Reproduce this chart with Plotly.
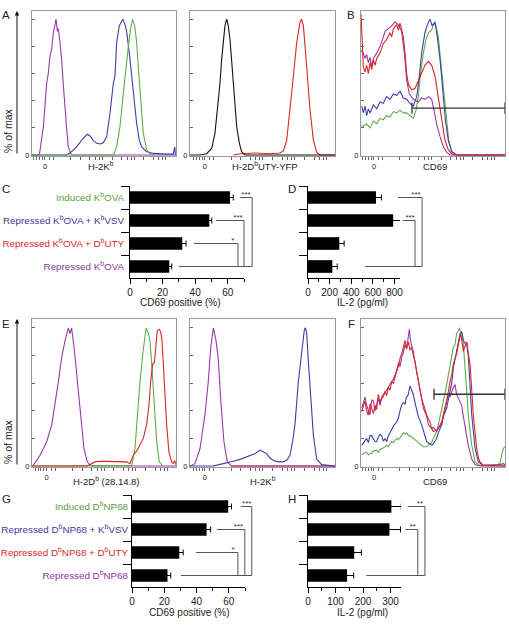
import math
import plotly.graph_objects as go

# ---------------- DATA ----------------
# Panel A (left): H-2Kb histograms (x: channel 0-100, y: % of max)
A1_purple_x = [0, 5.1, 7.9, 10.2, 11.3, 12.5, 13.7, 14.8, 16, 16.7, 17.6, 18.3, 19.4, 20.6, 21.8, 22.9, 24.1, 25.2, 26.9, 28.7, 100]
A1_purple_y = [0, 0, 21, 53, 60, 73, 78, 90, 96, 100, 91, 93, 83, 70, 51, 33, 19, 6, 1, 0, 0]
A1_blue_x = [0, 24.1, 27.5, 31, 34.5, 36.8, 38.4, 40.3, 42.6, 44.9, 47.2, 49.5, 51.9, 54.2, 56.5, 57.6, 58.8, 60.6, 63, 64.6, 65.7, 67.6, 69.2, 70.8, 72.7, 74.5, 76.2, 79.6, 84.3, 93.5, 98.1, 99.1, 99.6]
A1_blue_y = [0, 0, 2.5, 6, 11, 14, 15.3, 14, 10.6, 8.6, 8.1, 9, 13.6, 31, 53, 58, 83, 95, 100, 96, 91, 75, 58, 41, 23, 11, 6, 2.5, 1.2, 0.7, 0.7, 6, 0]
A1_green_x = [0, 56.5, 58.8, 61.1, 63, 64.6, 66.9, 68.5, 69.9, 71.3, 72.7, 73.8, 75, 76.2, 77.3, 79.6, 81.9, 84.3]
A1_green_y = [0, 0, 6, 21, 41, 58, 80, 93, 100, 95, 83, 65, 46, 28, 16, 4, 1, 0]

# Panel A (right): H-2Db UTY-YFP
A2_black_x = [0, 6.9, 11.5, 15, 17.2, 18.4, 19.5, 20.7, 21.8, 23, 24.1, 25.3, 26.4, 27.6, 28.7, 29.9, 31, 32.2, 34, 35.6, 37.9, 100]
A2_black_y = [0, 0, 1, 5, 16, 28, 41, 53, 70, 85, 95, 100, 95, 85, 70, 53, 36, 21, 9, 2.5, 0, 0]
A2_red_x = [30, 35, 45, 55, 62, 64.4, 66.7, 69, 71.3, 73.6, 75.9, 77, 78.2, 80.5, 82.8, 85.1, 87.4, 89.7, 100]
A2_red_y = [0, 1, 1.5, 1, 1.5, 3, 11, 33, 58, 83, 98, 100, 95, 65, 33, 11, 2, 0, 0]

# Panel B: CD69
B_red_x = [0, 0.7, 1.6, 2.8, 3.9, 5.1, 6.3, 7.4, 8.6, 9.7, 10.9, 13.2, 14.4, 15.5, 17.8, 20.1, 21.3, 22.5, 24.8, 25.9, 27.1, 28.2, 29.4, 30.6, 31.7, 32.9, 35.2, 37.5, 39.8, 42.1, 44.4, 46.8, 49.1, 51.4, 53.7, 56, 58.3, 60.6, 63, 65.3, 100]
B_red_y = [104, 85, 65, 61, 66, 60, 68, 63, 70, 66, 71, 75, 79, 82, 85, 90, 87, 93, 96, 92, 97, 93, 87, 75, 60, 52, 48, 49, 55, 61, 66, 69, 66, 58, 43, 26, 11, 4, 1, 0, 0]
B_purple_x = [0, 1.6, 2.8, 3.9, 5.1, 6.3, 7.4, 8.6, 10.9, 13.2, 15.5, 16.7, 19, 21.3, 23.6, 25.9, 28.2, 30.1, 31.7, 33.6, 36.3, 39.8, 42.1, 44.4, 46.8, 49.1, 50.7, 52.5, 54.9, 57.2, 59.5, 61.8, 100]
B_purple_y = [77, 75, 71, 74, 68, 72, 65, 71, 75, 80, 87, 91, 93, 95, 98, 96, 91, 75, 55, 45, 41, 39, 42, 41, 43, 41, 33, 23, 13.5, 6, 2, 0, 0]
B_blue_x = [0.5, 1.6, 2.8, 3.9, 5.1, 6.3, 8.6, 10.9, 13.2, 15.5, 17.8, 20.1, 22.5, 24.8, 27.1, 29.4, 31.7, 34, 36.3, 38.7, 40.5, 42.1, 44.4, 46.1, 47.9, 49.5, 51.4, 53, 54.9, 56.7, 58.6, 60.6, 63, 66.4, 100]
B_blue_y = [36, 31, 36, 29, 34, 31, 37, 34, 39, 38, 43, 41, 45, 44, 47, 42, 41, 38, 36, 43, 58, 75, 90, 96, 100, 95, 98, 87, 70, 48, 26, 11, 2.5, 0, 0]
B_green_x = [0.5, 1.6, 3.9, 6.3, 8.6, 10.9, 13.2, 15.5, 17.8, 20.1, 22.5, 24.8, 27.1, 29.4, 31.7, 34, 36.3, 38.2, 39.8, 41.4, 43.3, 45.1, 46.8, 49.1, 50.7, 52.1, 53.7, 55.3, 57.2, 59, 60.9, 63, 66.4, 100]
B_green_y = [22, 21, 23, 20, 25, 23, 27, 26, 29, 28, 32, 31, 33, 31, 31, 29, 27, 33, 43, 60, 75, 85, 90, 92, 97, 95, 87, 70, 50, 28, 11, 2.5, 0, 0]
B_gate_x = [35.4, 100]
B_gate_y = [34.5, 34.5]

# Panel C: CD69 positive (%)
C_cats = ["Induced K<sup>b</sup>OVA", "Repressed K<sup>b</sup>OVA + K<sup>b</sup>VSV",
          "Repressed K<sup>b</sup>OVA + D<sup>b</sup>UTY", "Repressed K<sup>b</sup>OVA"]
C_vals = [61.4, 48.7, 32.1, 24.1]
C_err = [2.0, 1.5, 2.3, 1.5]
C_br_rows = [0, 1, 2]
C_br_start = [67.5, 52.8, 39.3]
C_br_vert = [75.0, 70.0, 66.3]
C_br_star_x = [71.2, 66.3, 63.2]
C_br_labels = ["***", "***", "*"]
C_base_start = 30.0

# Panel D: IL-2 (pg/ml)
D_vals = [628, 787, 289, 225]
D_err = [50, 68, 45, 45]
D_br_rows = [0, 1]
D_br_start = [832, 878]
D_br_vert = [1054, 989]
D_br_star_x = [998, 943]
D_br_labels = ["***", "***"]
D_base_start = 527

# Panel E (left): H-2Db (28.14.8)
E1_purple_x = [0, 0.9, 5.6, 10.2, 13.7, 16, 18.3, 20.6, 22.9, 25.2, 26.4, 27.5, 29.2, 31.5, 33.8, 36.1, 38.4, 41.4, 100]
E1_purple_y = [0, 0.5, 7.8, 17.6, 29.8, 44, 61, 78.5, 90.7, 100, 96, 100, 86, 61.5, 34.6, 12.7, 2.9, 0, 0]
E1_red_x = [0, 38.4, 43.8, 47.2, 51.9, 58.8, 65.7, 68, 70.4, 73.1, 75, 77.3, 79.6, 81.2, 82.4, 83.8, 85, 86.1, 87, 88.4, 89.4, 90.3, 91.2, 92.4, 93.5, 95.1, 97, 98.1, 99.1, 99.8]
E1_red_y = [0, 0, 3, 3.5, 3.4, 3.2, 3, 1.7, 7.8, 11.5, 15, 20, 30, 44, 61, 74, 75, 91, 98, 99, 97, 91, 74, 49, 30, 10, 3, 2, 4, 1]
E1_green_x = [0, 69.2, 71.5, 73.1, 75, 76.9, 78, 79.2, 80.8, 81.9, 83.1, 84.7, 86.6, 88.4, 90.7]
E1_green_y = [0, 0.5, 12.7, 37, 61, 81, 91, 100, 96, 91, 74, 47, 17.6, 3, 0]

# Panel E (right): H-2Kb
E2_purple_x = [0, 3.4, 6.9, 10.3, 12.6, 14.3, 16.1, 17.9, 19.5, 21.1, 23.4, 25.7, 28.7, 100]
E2_purple_y = [0, 1.7, 12.7, 37, 61, 86, 100, 91, 78, 49, 17.6, 3, 0, 0]
E2_red_x = [28, 100]
E2_red_y = [0, 0]
E2_blue_x = [0, 16, 20, 25, 30, 35, 40, 45, 48.3, 50.5, 52.9, 55, 57.5, 61, 64.4, 67, 69, 70.8, 72.4, 74.7, 77, 78.2, 78.9, 79.7, 80.5, 81.6, 83.2, 85.1, 87.4, 90.8, 100]
E2_blue_y = [0, 0, 1, 2, 3.5, 5, 7, 9, 11.5, 10, 9, 6, 4, 3, 3, 4.5, 8, 18, 30, 61, 83, 95, 99, 100, 96, 76, 49, 22, 5, 1, 0]

# Panel F: CD69
F_red_x = [0.5, 2.8, 3.9, 5.1, 6.3, 7.4, 8.6, 9.7, 10.9, 12, 13.2, 14.4, 15.5, 16.7, 17.8, 19, 20.1, 21.3, 22.5, 24.8, 26, 27.1, 28.2, 29.4, 30.6, 31.7, 32.9, 34, 35.2, 36.3, 37.5, 38.7, 39.8, 42.1, 43.3, 45.6, 47.9, 49.1, 50.2, 52.5, 53.7, 56, 57.2, 59.5, 61.8, 63, 64.1, 65.3, 66.4, 67.6, 69.2, 70.4, 71.1, 72.2, 73.4, 74.5, 75.7, 76.9, 78, 80.3, 81.5, 82.6, 84.9, 96.5, 98.8, 100]
F_red_y = [39.5, 47, 40, 37, 45, 42, 38, 44, 41, 52, 46, 49, 50, 54, 51, 57, 55, 61, 60, 69, 72, 78, 81, 86, 91, 85, 90, 84, 86, 80, 76, 68, 61, 49, 45, 37, 32, 27, 28, 25, 28, 30, 36, 47, 61, 66, 74, 78, 81, 88, 96, 88, 83, 87, 90, 82, 74, 55, 37, 13, 6, 3, 0.5, 1, 1.7, 1]
F_purple_x = [0.5, 2.8, 3.9, 5.1, 6.3, 7.4, 8.6, 9.7, 10.9, 12, 13.2, 14.4, 15.5, 17.8, 20.1, 22.5, 24.8, 26, 27.1, 28.2, 29.4, 30.6, 31.7, 32.9, 33.6, 34.5, 35.2, 36.3, 37.5, 39.8, 42.1, 43.3, 45.6, 46.8, 49.1, 50.2, 52.5, 53.7, 56, 57.2, 59.5, 60.6, 61.8, 63, 64.1, 65.3, 66.4, 67.6, 68.8, 69.9, 71.1, 72.2, 74.5, 76.9, 79.2, 82.6, 100]
F_purple_y = [42, 50, 44, 40, 37, 48, 47, 40, 46, 49, 44, 50, 52, 55, 59, 63, 69, 75, 72, 78.5, 82, 88, 85, 93, 99, 90, 87, 83, 75, 61, 50, 42, 36, 30, 27, 25, 26, 27, 32, 37, 46, 52, 50, 54, 57, 59, 52, 49, 46, 44, 36, 30, 15, 5, 1, 0, 0]
F_blue_x = [0.5, 2.8, 3.9, 5.1, 6.3, 7.4, 8.6, 9.7, 10.9, 12, 13.2, 14.4, 15.5, 16.7, 17.8, 19, 20.1, 21.3, 22.5, 24.8, 26, 27.1, 28.2, 29.4, 30.6, 31.3, 32.9, 34, 35.2, 36.3, 37.5, 38.7, 39.8, 42.1, 43.3, 45.6, 47.9, 49.1, 50.2, 52.5, 53.7, 56, 57.2, 59.5, 61.8, 63, 64.1, 65.3, 66.4, 67.6, 68.8, 69.9, 71.1, 72.2, 73.4, 74.5, 75.2, 76.9, 79.2, 81.5, 84.9, 100]
F_blue_y = [15, 18, 20, 17, 22, 22, 19, 17.6, 17.6, 21, 23, 22, 18, 20, 17.6, 22, 24, 27, 29, 32, 35, 40, 44, 46, 45, 49, 52, 58, 54, 52, 46, 39.5, 36, 30, 26, 17.6, 16, 15, 16, 20, 24, 30, 36, 42, 54, 60, 71, 78, 83, 90, 96, 97, 91, 89, 88, 80, 69, 37, 13, 3, 0.5, 0]
F_green_x = [0.5, 2.8, 3.9, 5.1, 6.3, 7.4, 8.6, 9.7, 10.9, 12, 13.2, 14.4, 15.5, 17.8, 19, 20.1, 21.3, 22.5, 24.8, 26, 27.1, 28.2, 29.4, 30.6, 31.7, 32.9, 34, 35.2, 36.3, 37.5, 38.7, 39.8, 42.1, 43.3, 45.6, 46.8, 49.1, 50.2, 52.5, 53.7, 56, 57.2, 59.5, 60.6, 61.8, 63, 64.1, 65.3, 66.4, 67.6, 68.3, 69.2, 70.4, 71.1, 72.2, 73.4, 74.5, 76.9, 79.2, 82.6, 94.2, 96.5, 97.7, 98.8, 100]
F_green_y = [8, 10, 10, 8, 9, 9, 11, 11.5, 11.5, 10, 12, 12.7, 13, 15, 14, 16, 17.6, 17, 20, 19, 21, 22, 24, 23, 24, 22, 22, 21, 20, 19, 18, 17.6, 15, 14, 14, 15, 17, 20, 25, 30, 40, 47, 59, 65, 71, 79, 86, 88, 96, 98, 100, 97, 96, 88, 74, 55, 37, 15, 3, 0.5, 0.5, 2, 8, 12.7, 14]
F_gate_x = [50.7, 100]
F_gate_y = [52, 52]

# Panel G: CD69 positive (%)
G_cats = ["Induced D<sup>b</sup>NP68", "Repressed D<sup>b</sup>NP68 + K<sup>b</sup>VSV",
          "Repressed D<sup>b</sup>NP68 + D<sup>b</sup>UTY", "Repressed D<sup>b</sup>NP68"]
G_vals = [59.6, 46.2, 29.3, 22.0]
G_err = [2.0, 2.5, 2.4, 2.0]
G_br_rows = [0, 1, 2]
G_br_start = [67.4, 52.6, 39.6]
G_br_vert = [74.2, 69.9, 65.6]
G_br_star_x = [71.1, 66.0, 62.6]
G_br_labels = ["***", "***", "*"]
G_base_start = 30.3

# Panel H: IL-2 (pg/ml)
H_vals = [303, 296, 168, 142]
H_err = [36, 40, 26, 24]
H_br_rows = [0, 1]
H_br_start = [363, 355]
H_br_vert = [425, 399]
H_br_star_x = [407, 381]
H_br_labels = ["**", "**"]
H_base_start = 212

# ---------------- STYLE / LAYOUT ----------------
W, H = 509, 628
FONT = "Liberation Sans, Arial, sans-serif"
GREEN, BLUE, RED, PURPLE, BLACK = "#5fae4a", "#3e3ea8", "#dd2424", "#9a3aa8", "#111111"
label_colors = ["#5a9e3a", "#3a3a9a", "#d42a2a", "#8a3a9a"]


def dom_x(a, b):
    return [a / W, b / W]


def dom_y(top, bot):
    return [1 - bot / H, 1 - top / H]


def ax_key(p, n):
    return p + ("" if n == 1 else str(n))


def ax_ref(p, n):
    return p + ("" if n == 1 else str(n))


fig = go.Figure()
layout = dict(template="none", width=W, height=H, margin=dict(l=0, r=0, t=0, b=0, pad=0),
              paper_bgcolor="white", plot_bgcolor="rgba(0,0,0,0)", showlegend=False,
              font=dict(family=FONT, color="#222", size=10))
annotations = []


def hist_ticks(z):
    v = [z + d for d in (-8, -6, -4, -2, 0, 3, 6)]
    for dec in (z + 18, z + 40, z + 62, z + 84):
        for k in (1, 2, 4, 6, 8):
            v.append(dec + 22 * math.log10(k))
    v = [t for t in v if 0.8 <= t <= 99.2]
    return v, ["0" if abs(t - z) < 1e-9 else "" for t in v]


def hist_panel(n, xpx, ypx, zero, series, yr):
    tv, tt = hist_ticks(zero)
    layout[ax_key("xaxis", n)] = dict(domain=dom_x(*xpx), range=[0, 100], anchor=ax_ref("y", n),
                                      automargin=False,
                                      showline=True, linecolor="#9a9a9a", linewidth=1, mirror=True,
                                      ticks="outside", ticklen=3, tickcolor="#666", tickwidth=1,
                                      tickvals=tv, ticktext=tt, tickfont=dict(size=7.5),
                                      showgrid=False, zeroline=False)
    layout[ax_key("yaxis", n)] = dict(domain=dom_y(*ypx), range=yr, anchor=ax_ref("x", n),
                                      automargin=False,
                                      showline=True, linecolor="#9a9a9a", linewidth=1, mirror=True,
                                      ticks="inside", ticklen=3, tickcolor="#666",
                                      tickvals=[0, 20, 40, 60, 80, 100], ticktext=["0", "", "", "", "", ""],
                                      tickfont=dict(size=7.5), showgrid=False, zeroline=False)
    for xs, ys, col in series:
        fig.add_trace(go.Scatter(x=xs, y=ys, mode="lines", line=dict(color=col, width=1.1),
                                 xaxis=ax_ref("x", n), yaxis=ax_ref("y", n), hoverinfo="skip"))


def gate(n, gx, gy):
    fig.add_trace(go.Scatter(x=gx, y=gy, mode="lines+markers",
                             line=dict(color="#333", width=1.3),
                             marker=dict(symbol="line-ns", size=8, line=dict(width=1.3, color="#333")),
                             xaxis=ax_ref("x", n), yaxis=ax_ref("y", n), hoverinfo="skip", cliponaxis=False))


def bar_panel(n, no, xpx, ypx, xmax, wide_px, cats, vals, errs, major, minor, labels, standoff,
              br_rows, br_start, br_vert, star_x, star_lbl, base_start):
    scale = (xpx[1] - xpx[0]) / xmax
    layout[ax_key("xaxis", n)] = dict(domain=dom_x(*xpx), range=[0, xmax], anchor=ax_ref("y", n),
                                      automargin=False,
                                      showline=True, linecolor="black", linewidth=1,
                                      ticks="outside", ticklen=5, tickcolor="black",
                                      tickvals=major, tickfont=dict(size=10, color="#222"),
                                      minor=dict(tickvals=minor, ticks="outside", ticklen=3, tickcolor="black"),
                                      showgrid=False, zeroline=False)
    yax = dict(domain=dom_y(*ypx), type="category", categoryorder="array", categoryarray=cats,
               range=[3.5, -0.5], anchor=ax_ref("x", n), showline=True, linecolor="black", linewidth=1,
               automargin=False,
               ticks="outside", ticklen=8, tickcolor="black", tickson="boundaries",
               showgrid=False, zeroline=False)
    if labels:
        yax.update(tickvals=cats,
                   ticktext=[f"<span style='color:{c}'>{t}</span>" for t, c in zip(cats, label_colors)],
                   tickfont=dict(size=9.8), ticklabelstandoff=standoff)
    else:
        yax.update(showticklabels=False)
    layout[ax_key("yaxis", n)] = yax
    fig.add_trace(go.Bar(x=vals, y=cats, orientation="h", width=0.55,
                         marker=dict(color="black", line=dict(width=0)),
                         error_x=dict(type="data", array=errs, color="black", thickness=1, width=3),
                         xaxis=ax_ref("x", n), yaxis=ax_ref("y", n), hoverinfo="skip"))
    # overlay subplot (same scale, wider) for significance brackets
    layout[ax_key("xaxis", no)] = dict(domain=dom_x(xpx[0], xpx[0] + wide_px), range=[0, wide_px / scale],
                                       anchor=ax_ref("y", no), visible=False, automargin=False)
    layout[ax_key("yaxis", no)] = dict(domain=dom_y(*ypx), range=[3.5, -0.5], anchor=ax_ref("x", no),
                                       visible=False, automargin=False)
    bx, by = [], []
    for r, s, v in zip(br_rows, br_start, br_vert):
        bx += [s, v, v, None]
        by += [r, r, 3, None]
    bx += [base_start, max(br_vert)]
    by += [3, 3]
    fig.add_trace(go.Scatter(x=bx, y=by, mode="lines", line=dict(color="#555", width=1),
                             xaxis=ax_ref("x", no), yaxis=ax_ref("y", no), hoverinfo="skip"))
    fig.add_trace(go.Scatter(x=star_x, y=[r - 0.12 for r in br_rows], mode="text", text=star_lbl,
                             textfont=dict(size=8, color="#333"), cliponaxis=False,
                             xaxis=ax_ref("x", no), yaxis=ax_ref("y", no), hoverinfo="skip"))


# Histograms
hist_panel(1, (32, 176), (11, 156), 9, [(A1_purple_x, A1_purple_y, PURPLE), (A1_blue_x, A1_blue_y, BLUE),
                                       (A1_green_x, A1_green_y, GREEN)], [-0.7, 106])
hist_panel(2, (190, 335), (11, 156), 10.3, [(A2_red_x, A2_red_y, RED), (A2_black_x, A2_black_y, BLACK)], [-0.7, 106])
hist_panel(3, (361, 505), (11, 156), 9, [(B_green_x, B_green_y, GREEN), (B_blue_x, B_blue_y, BLUE),
                                        (B_purple_x, B_purple_y, PURPLE), (B_red_x, B_red_y, RED)], [-0.7, 106])
gate(3, B_gate_x, B_gate_y)

bar_panel(4, 5, (130, 244), (186, 278), 70, 132, C_cats, C_vals, C_err, [0, 20, 40, 60], [10, 30, 50, 70], True, 3,
          C_br_rows, C_br_start, C_br_vert, C_br_star_x, C_br_labels, C_base_start)
bar_panel(6, 7, (308, 400), (186, 278), 850, 122, C_cats, D_vals, D_err, [0, 200, 400, 600, 800],
          [100, 300, 500, 700], False, 0, D_br_rows, D_br_start, D_br_vert, D_br_star_x, D_br_labels, D_base_start)

hist_panel(8, (32, 176), (319, 467), 10.2, [(E1_purple_x, E1_purple_y, PURPLE), (E1_green_x, E1_green_y, GREEN),
                                           (E1_red_x, E1_red_y, RED)], [-0.7, 106.5])
hist_panel(9, (190, 335), (319, 467), 10.3, [(E2_red_x, E2_red_y, RED), (E2_purple_x, E2_purple_y, PURPLE),
                                            (E2_blue_x, E2_blue_y, BLUE)], [-0.7, 106.5])
hist_panel(10, (361, 505), (319, 467), 9, [(F_green_x, F_green_y, GREEN), (F_blue_x, F_blue_y, BLUE),
                                          (F_purple_x, F_purple_y, PURPLE), (F_red_x, F_red_y, RED)], [-0.7, 106.5])
gate(10, F_gate_x, F_gate_y)

bar_panel(11, 12, (132, 245), (495, 587), 70, 130, G_cats, G_vals, G_err, [0, 20, 40, 60], [10, 30, 50, 70], True, 1,
          G_br_rows, G_br_start, G_br_vert, G_br_star_x, G_br_labels, G_base_start)
bar_panel(13, 14, (308, 401), (495, 587), 338, 122, G_cats, H_vals, H_err, [0, 100, 200, 300],
          [50, 150, 250], False, 0, H_br_rows, H_br_start, H_br_vert, H_br_star_x, H_br_labels, H_base_start)


def txt(x, y, s, size=10, angle=0, color="#222"):
    annotations.append(dict(x=x / W, y=1 - y / H, xref="paper", yref="paper", text=s, showarrow=False,
                            xanchor="center", yanchor="middle", textangle=angle,
                            font=dict(size=size, color=color, family=FONT)))


for letter, (x, y) in {"A": (6, 15), "B": (351, 15), "C": (6, 189), "D": (292, 189),
                       "E": (6, 324), "F": (351, 324), "G": (6, 499), "H": (292, 499)}.items():
    txt(x, y, letter, size=11.5)

txt(101, 166, "H-2K<sup>b</sup>", 9.5)
txt(265, 166, "H-2D<sup>b</sup>UTY-YFP", 9.5)
txt(435, 166, "CD69", 9.5)
txt(106, 481, "H-2D<sup>b</sup> (28.14.8)", 9.5)
txt(263, 481, "H-2K<sup>b</sup>", 9.5)
txt(435, 481, "CD69", 9.5)
txt(8, 131, "% of max", 10.5, -90)
txt(8, 442, "% of max", 10.5, -90)
txt(180, 302, "CD69 positive (%)", 10)
txt(362, 302, "IL-2 (pg/ml)", 10)
txt(189, 612, "CD69 positive (%)", 10)
txt(362, 612, "IL-2 (pg/ml)", 10)

for top, bot in ((11, 155), (319, 466)):
    annotations.append(dict(x=17 / W, y=1 - top / H, xref="paper", yref="paper", text="",
                            showarrow=True, ax=0, ay=bot - top, arrowhead=2, arrowsize=0.9,
                            arrowwidth=1, arrowcolor="#111", standoff=0))

layout["annotations"] = annotations
fig.update_layout(**layout)
fig.write_html("out.html")
